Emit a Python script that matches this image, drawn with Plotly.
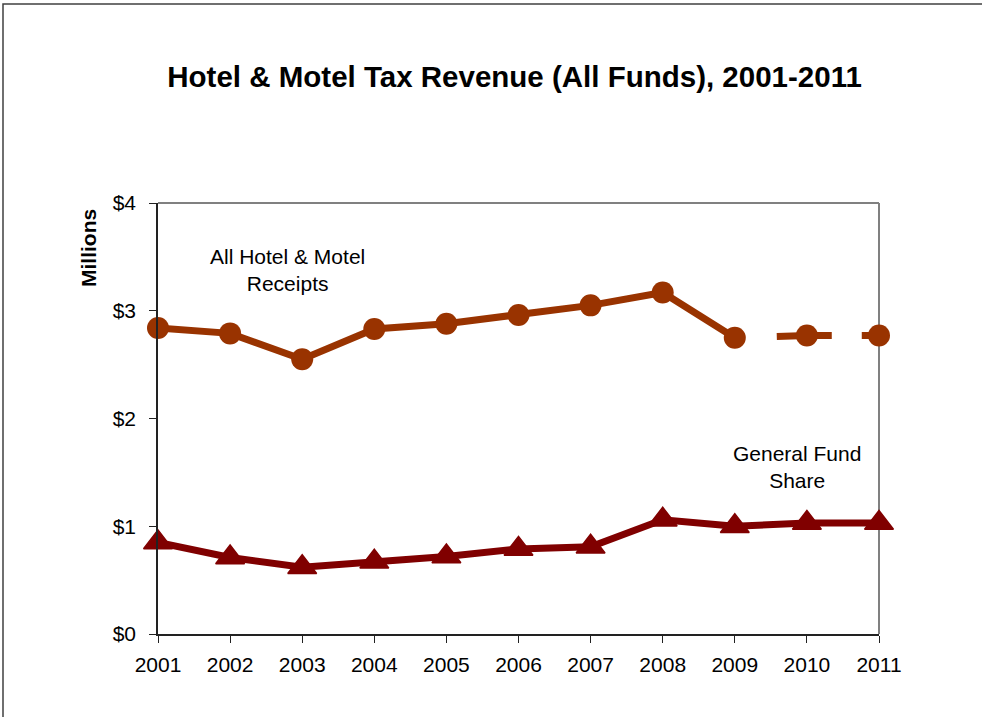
import plotly.graph_objects as go

years = [2001, 2002, 2003, 2004, 2005, 2006, 2007, 2008, 2009, 2010, 2011]
all_receipts = [2.84, 2.79, 2.55, 2.83, 2.88, 2.96, 3.05, 3.17, 2.75, 2.77, 2.77]
general_fund = [0.85, 0.71, 0.62, 0.67, 0.72, 0.79, 0.81, 1.06, 1.00, 1.03, 1.03]
y_ticks = [0, 1, 2, 3, 4]
y_tick_labels = ["$0", "$1", "$2", "$3", "$4"]

orange = "#993300"
darkred = "#800000"
font = "Liberation Sans, Arial, sans-serif"

fig = go.Figure()
fig.add_trace(go.Scatter(x=years[:9], y=all_receipts[:9], mode="lines+markers",
                         line=dict(color=orange, width=7),
                         marker=dict(symbol="circle", size=22, color=orange),
                         cliponaxis=False, showlegend=False))
fig.add_trace(go.Scatter(x=years[8:], y=all_receipts[8:], mode="lines",
                         line=dict(color=orange, width=7, dash="0px,42px,55px,30px,30px,100px"),
                         cliponaxis=False, showlegend=False))
fig.add_trace(go.Scatter(x=years[9:], y=all_receipts[9:], mode="markers",
                         marker=dict(symbol="circle", size=22, color=orange),
                         cliponaxis=False, showlegend=False))
fig.add_trace(go.Scatter(x=years, y=general_fund, mode="lines+markers",
                         line=dict(color=darkred, width=7),
                         marker=dict(symbol="triangle-up", size=25, color=darkred,
                                     line=dict(color=darkred, width=1.5)),
                         cliponaxis=False, showlegend=False))

fig.update_layout(
    width=982, height=717,
    margin=dict(l=158, r=103, t=203, b=83),
    paper_bgcolor="white", plot_bgcolor="white",
    font=dict(family=font, size=21, color="black"),
    title=dict(text="<b>Hotel & Motel Tax Revenue (All Funds), 2001-2011</b>",
               x=0.524, xanchor="center", y=1 - 77/717, yanchor="middle",
               font=dict(size=29.5, family=font, color="black")),
    xaxis=dict(range=[2001, 2011], tickvals=years, ticktext=[str(y) for y in years],
               showgrid=False, zeroline=False, showline=True, linecolor="#222222", linewidth=1.5,
               ticks="outside", ticklen=7, tickcolor="#222222", tickfont=dict(size=21),
               ticklabelstandoff=4),
    yaxis=dict(range=[0, 4], tickvals=y_ticks, ticktext=y_tick_labels,
               showgrid=False, zeroline=False, showline=True, linecolor="#222222", linewidth=1.5,
               ticks="outside", ticklen=7, tickcolor="#222222", tickfont=dict(size=21),
               ticklabelstandoff=9),
    shapes=[
        dict(type="line", xref="paper", yref="paper", x0=0, x1=1, y0=1, y1=1,
             line=dict(color="#808080", width=2), layer="below"),
        dict(type="line", xref="paper", yref="paper", x0=1, x1=1, y0=0, y1=1,
             line=dict(color="#808080", width=2), layer="below"),
        dict(type="rect", xref="paper", yref="paper", x0=(3-158)/721, x1=1.6,
             y0=-0.5, y1=(634-4)/431, line=dict(color="#404040", width=1.5)),
    ],
    annotations=[
        dict(text="<b>Millions</b>", xref="paper", yref="paper", x=(88-158)/721,
             y=(634-248)/431, textangle=-90, showarrow=False, font=dict(size=21),
             xanchor="center", yanchor="middle"),
        dict(text="All Hotel & Motel<br>Receipts", xref="paper", yref="paper",
             x=(287-158)/721, y=(634-270)/431, showarrow=False, font=dict(size=21),
             xanchor="center", yanchor="middle"),
        dict(text="General Fund<br>Share", xref="paper", yref="paper",
             x=(797-158)/721, y=(634-467)/431, showarrow=False, font=dict(size=21),
             xanchor="center", yanchor="middle"),
    ],
)

fig.write_html("out.html", config={"displayModeBar": False},
               post_script="document.body.style.margin='0';")
